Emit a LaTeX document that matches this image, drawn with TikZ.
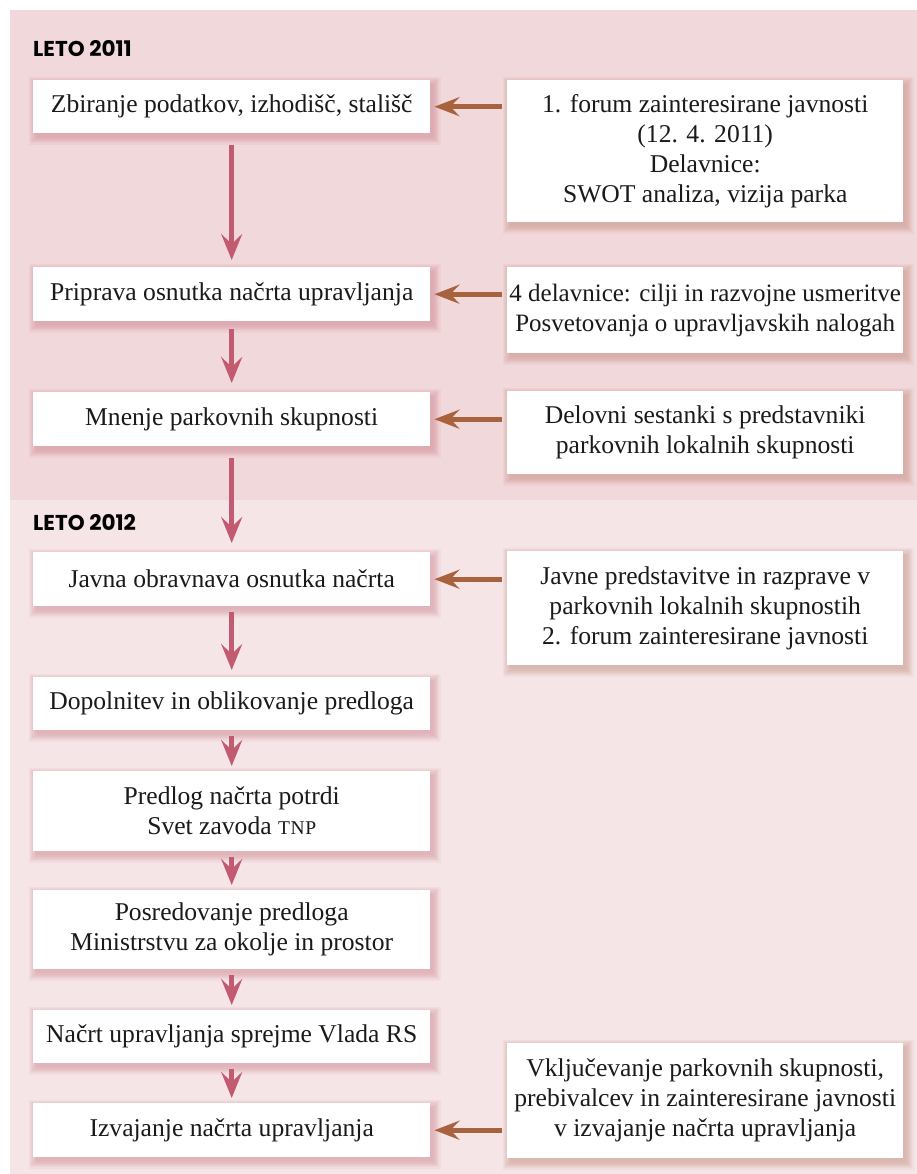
\documentclass[tikz,border=0pt]{standalone}
\usepackage{fontspec}
\setmainfont{Liberation Serif}
\newfontfamily\hdrfont{Poppins}
\usetikzlibrary{arrows.meta,backgrounds}
\definecolor{bgtop}{HTML}{F1D8DA}
\definecolor{bgbot}{HTML}{F5E5E7}
\definecolor{pinkarrow}{HTML}{C25A72}
\definecolor{brownarrow}{HTML}{A8623D}
\definecolor{txt}{HTML}{1A1A1A}
\definecolor{lshadow}{HTML}{C0606E}
\definecolor{rshadow}{HTML}{B06A55}
\newcommand\boxshadow[2]{%
  \foreach \r in {0,1.2,2.4,3.6,4.8,6.0,7.2}{%
    \fill[#2, opacity=0.06] ([xshift={(3-\r)*1pt}, yshift={(-4-\r)*1pt}]#1.south west) rectangle ([xshift={(3+\r)*1pt}, yshift={(-4+\r)*1pt}]#1.north east);}}
\newcommand\tnp{{\fontsize{19.5}{20}\selectfont T\kern0.6pt N\kern0.6pt P}}
\tikzset{
  lbox/.style={fill=white, inner sep=0pt, minimum width=397pt, align=center,
    anchor=north west, font=\fontsize{25.6}{30}\selectfont, text=txt},
  rbox/.style={lbox, minimum width=396pt},
  varrow/.style={draw=pinkarrow, line width=5pt,
    -{Stealth[length=26pt,width=21pt,inset=10pt]}, shorten <=6pt, shorten >=5pt},
  harrow/.style={draw=brownarrow, line width=5pt,
    -{Stealth[length=25pt,width=19pt,inset=9pt]}, shorten <=5pt, shorten >=4pt},
  hdr/.style={anchor=base west, inner sep=0pt, text=black,
    font=\hdrfont\bfseries\fontsize{21.5}{24}\selectfont}
}
\begin{document}
\begin{tikzpicture}[x=1pt,y=-1pt]
\useasboundingbox (0,0) rectangle (917,1174);
% headers
\node[hdr] (h1) at (33,57) {LETO 2011};
\node[hdr] (h2) at (33,530) {LETO 2012};
% left column
\node[lbox, minimum height=53pt] (l1) at (33,80) {Zbiranje podatkov, izhodišč, stališč};
\node[lbox, minimum height=54pt] (l2) at (33,267) {Priprava osnutka načrta upravljanja};
\node[lbox, minimum height=54pt] (l3) at (33,392) {Mnenje parkovnih skupnosti};
\node[lbox, minimum height=54pt] (l4) at (33,552) {Javna obravnava osnutka načrta};
\node[lbox, minimum height=53pt] (l5) at (33,677) {Dopolnitev in oblikovanje predloga};
\node[lbox, minimum height=80pt] (l6) at (33,771) {Predlog načrta potrdi\\Svet zavoda \tnp};
\node[lbox, minimum height=79pt] (l7) at (33,890) {Posredovanje predloga\\Ministrstvu za okolje in prostor};
\node[lbox, minimum height=53pt] (l8) at (33,1010) {Načrt upravljanja sprejme Vlada RS};
\node[lbox, minimum height=54pt] (l9) at (33,1103) {Izvajanje načrta upravljanja};
% right column
\node[rbox, minimum height=142pt] (r1) at (507,80) {1. forum zainteresirane javnosti\\(12. 4. 2011)\\Delavnice:\\SWOT analiza, vizija parka};
\node[rbox, minimum height=86pt, font=\fontsize{25}{30}\selectfont] (r2) at (507,267) {4 delavnice: cilji in razvojne usmeritve\\Posvetovanja o upravljavskih nalogah};
\node[rbox, minimum height=83pt] (r3) at (507,391) {Delovni sestanki s predstavniki\\parkovnih lokalnih skupnosti};
\node[rbox, minimum height=114pt] (r4) at (507,551) {Javne predstavitve in razprave v\\parkovnih lokalnih skupnostih\\2. forum zainteresirane javnosti};
\node[rbox, minimum height=115pt] (r5) at (507,1043) {Vključevanje parkovnih skupnosti,\\prebivalcev in zainteresirane javnosti\\v izvajanje načrta upravljanja};
% backgrounds and shadows
\begin{scope}[on background layer]
  \fill[bgtop] (10,10) rectangle (917,500);
  \fill[bgbot] (10,500) rectangle (917,1174);
  \foreach \n in {l1,l2,l3,l4,l5,l6,l7,l8,l9}{\boxshadow{\n}{lshadow}}
  \foreach \n in {r1,r2,r3,r4,r5}{\boxshadow{\n}{rshadow}}
\end{scope}
% vertical arrows
\draw[varrow, shorten <=12pt, shorten >=7pt] (l1) -- (l2);
\draw[varrow, shorten <=8pt, shorten >=9pt] (l2) -- (l3);
\draw[varrow, shorten <=12pt, shorten >=9pt] (l3) -- (l4);
\draw[varrow, shorten <=6pt, shorten >=7pt] (l4) -- (l5);
\draw[varrow] (l5) -- (l6);
\draw[varrow] (l6) -- (l7);
\draw[varrow] (l7) -- (l8);
\draw[varrow] (l8) -- (l9);
% horizontal arrows
\draw[harrow] (l1.east -| r1.west) -- (l1.east);
\draw[harrow] (l2.east -| r2.west) -- (l2.east);
\draw[harrow] (l3.east -| r3.west) -- (l3.east);
\draw[harrow] (l4.east -| r4.west) -- (l4.east);
\draw[harrow] (l9.east -| r5.west) -- (l9.east);
\end{tikzpicture}
\end{document}
